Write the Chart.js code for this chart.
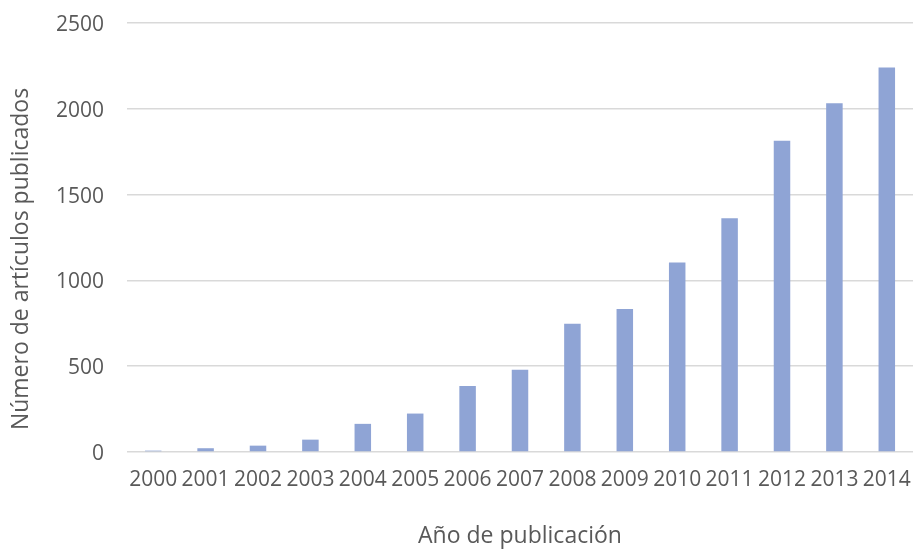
<!DOCTYPE html>
<html>
<head>
<meta charset="utf-8">
<script src="https://cdn.jsdelivr.net/npm/chart.js@4.4.1/dist/chart.umd.min.js"></script>
<style>
  html, body { margin: 0; padding: 0; background: #ffffff; }
  #wrap { width: 913px; height: 550px; }
</style>
</head>
<body>
<div id="wrap"><canvas id="chart" width="913" height="550"></canvas></div>
<script>
// Artículos publicados por año
const years = ['2000','2001','2002','2003','2004','2005','2006','2007','2008','2009','2010','2011','2012','2013','2014'];
const articles = [8, 22, 37, 72, 164, 224, 384, 479, 748, 834, 1105, 1362, 1814, 2032, 2240];
const yTicks = [0, 500, 1000, 1500, 2000, 2500];

const xTitle = 'Año de publicación';
const yTitle = 'Número de artículos publicados';

const textColor = '#595959';
const fontFamily = '"Open Sans", "DejaVu Sans", sans-serif';

// Vertical axis title, placed beside the value axis
const yTitlePlugin = {
  id: 'yTitle',
  afterDraw(chart) {
    const { ctx } = chart;
    ctx.save();
    ctx.translate(21, 259);
    ctx.rotate(-Math.PI / 2);
    ctx.font = '23px ' + fontFamily;
    ctx.fillStyle = textColor;
    ctx.textAlign = 'center';
    ctx.textBaseline = 'middle';
    ctx.fillText(yTitle, 0, 0);
    ctx.restore();
  }
};

new Chart(document.getElementById('chart'), {
  type: 'bar',
  data: {
    labels: years,
    datasets: [{
      data: articles,
      backgroundColor: '#8fa4d5',
      borderWidth: 0,
      categoryPercentage: 1,
      barPercentage: 0.315
    }]
  },
  plugins: [yTitlePlugin],
  options: {
    responsive: false,
    animation: false,
    layout: { padding: { top: 23, left: 0, right: 0, bottom: 0 } },
    plugins: {
      legend: { display: false },
      tooltip: { enabled: false }
    },
    scales: {
      x: {
        grid: { display: false, drawTicks: false },
        border: { display: false },
        ticks: {
          color: textColor,
          font: { family: fontFamily, size: 21 },
          padding: 15,
          maxRotation: 0,
          autoSkip: false
        },
        title: {
          display: true,
          text: xTitle,
          color: textColor,
          font: { family: fontFamily, size: 23 },
          padding: { top: 0, bottom: 0 }
        },
        afterFit(scale) {
          scale.height = 98;
          scale.paddingLeft = 0;
          scale.paddingRight = 0;
        }
      },
      y: {
        min: 0,
        max: 2500,
        afterBuildTicks(scale) { scale.ticks = yTicks.map(v => ({ value: v })); },
        grid: { color: '#d9d9d9', lineWidth: 1.5, drawTicks: false },
        border: { display: false },
        ticks: {
          color: textColor,
          font: { family: fontFamily, size: 21 },
          padding: 23,
          labelOffset: 2,
          callback: (v) => String(v)
        },
        afterFit(scale) {
          scale.width = 127;
          scale.paddingTop = 0;
          scale.paddingBottom = 0;
        }
      }
    }
  }
});
</script>
</body>
</html>
